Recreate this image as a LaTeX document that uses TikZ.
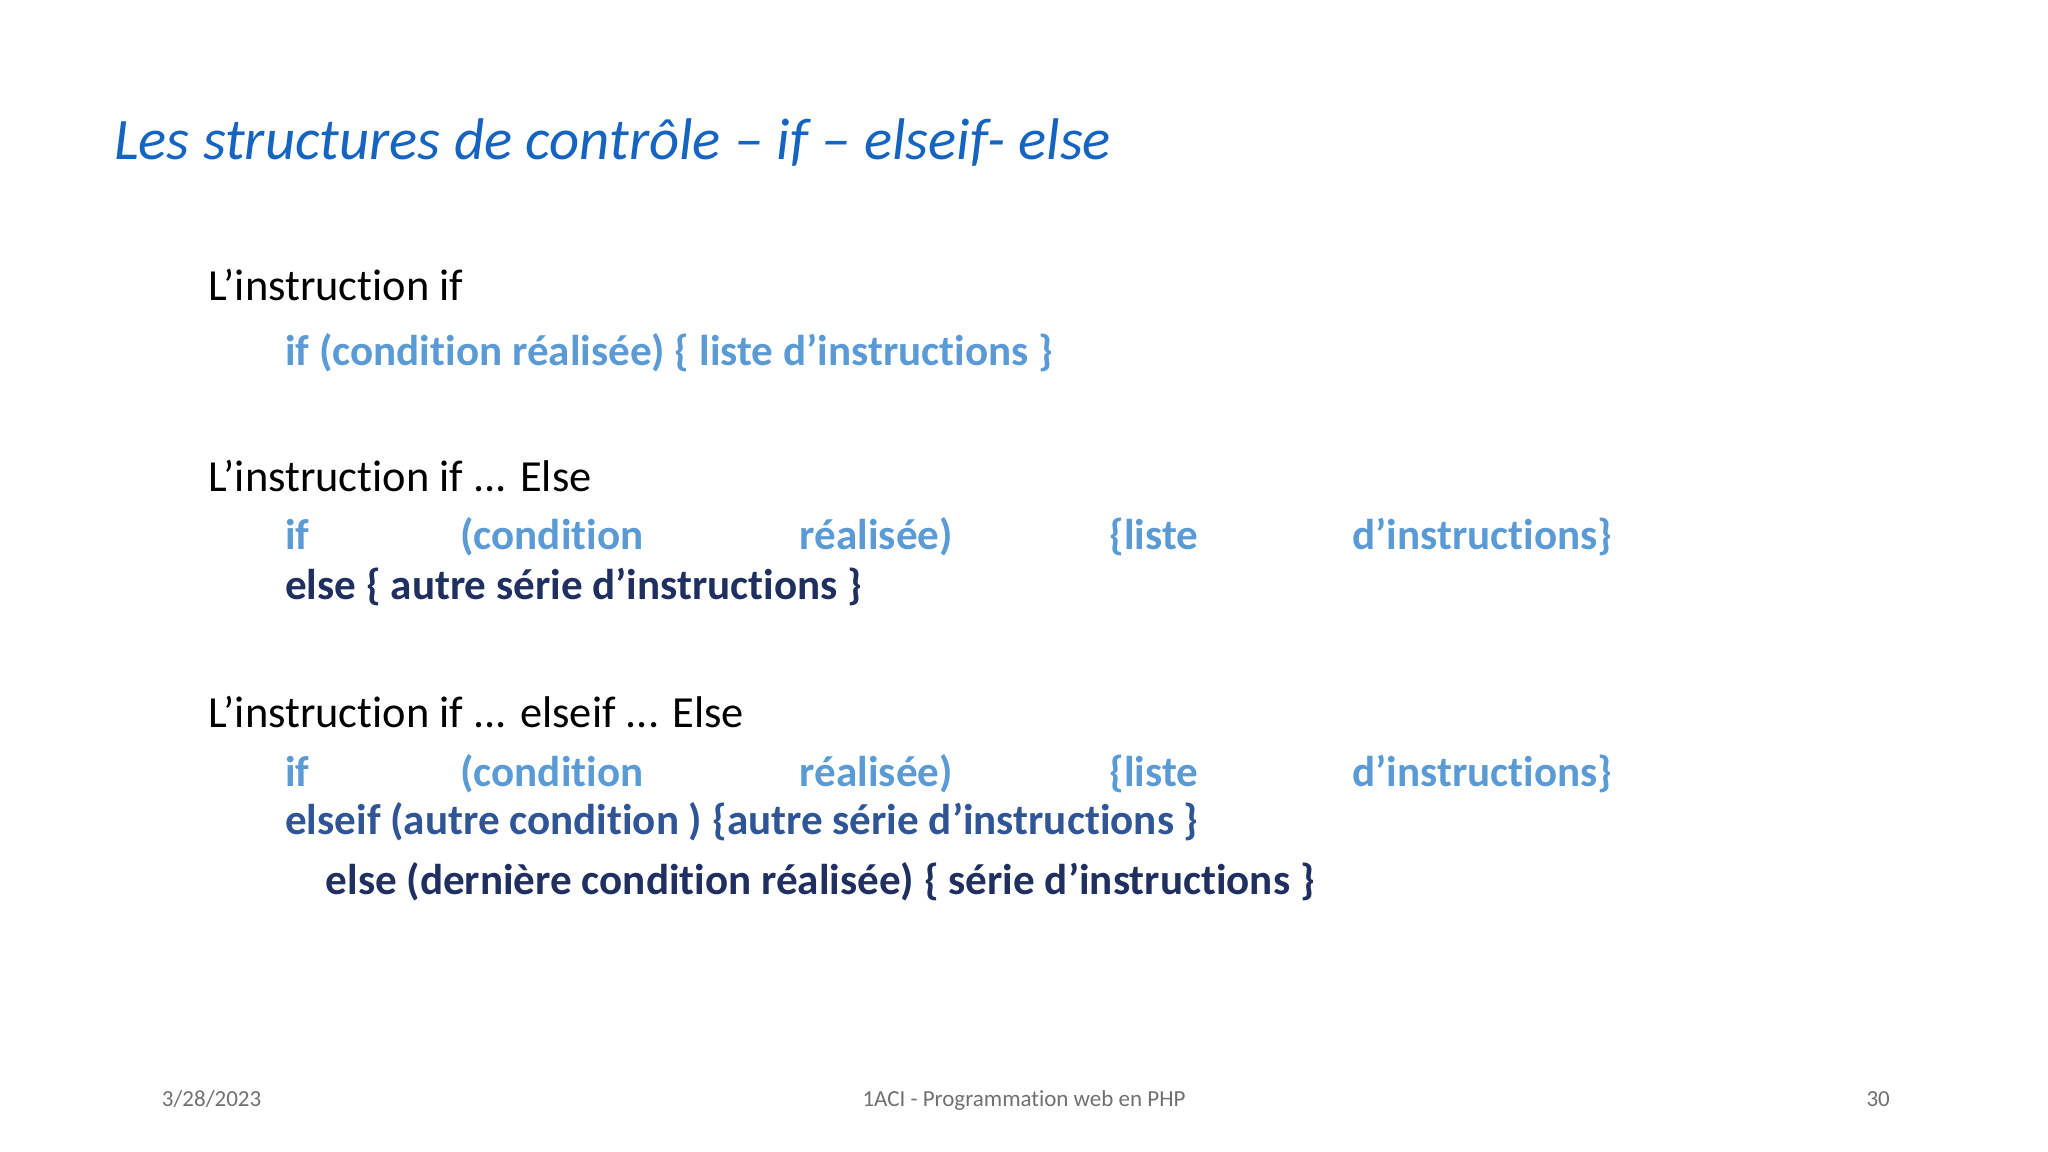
\documentclass[tikz,border=0pt]{standalone}
\usepackage{fontspec}
\setmainfont{Carlito}[Ligatures={NoCommon},RawFeature={-liga;-calt}]
\newcommand\ap{\char39\relax}
\definecolor{titleblue}{HTML}{1565C0}
\definecolor{lblue}{HTML}{5B9BD5}
\definecolor{mblue}{HTML}{2F5597}
\definecolor{navy}{HTML}{1F2F5F}
\definecolor{foot}{HTML}{707070}
\begin{document}
\begin{tikzpicture}[x=0.5pt,y=-0.5pt,
  t/.style={anchor=base west,inner sep=0pt,font=\fontsize{17}{20}\selectfont},
  c/.style={anchor=base west,inner sep=0pt,font=\fontsize{16.5}{20}\bfseries\selectfont,text=lblue},
  f/.style={inner sep=0pt,anchor=base,font=\fontsize{8.8}{10}\selectfont,text=foot}]
\useasboundingbox (0,0) rectangle (1568,882);
\node[anchor=base west,inner sep=0pt,text=titleblue,font=\fontsize{22.5}{26}\itshape\selectfont] (title) at (87,122) {Les structures de contrôle – if – elseif- else};
\node[t] (h1) at (159,230) {L\ap instruction if};
\node[c] (a1) at (218,280) {if (condition réalisée) \{ liste d\ap instructions \}};
\node[t] (h2) at (159,376) {L\ap instruction if ... Else};
\node[c] (ba) at (218,421) {if};
\node[c] (bb) at (352,421) {(condition};
\node[c] (bc) at (612,421) {réalisée)};
\node[c] (bd) at (849,421) {\{liste};
\node[c] (be) at (1035,421) {d\ap instructions\}};
\node[c,text=navy] (b2) at (218,459) {else \{ autre série d\ap instructions \}};
\node[t] (h3) at (159,557) {L\ap instruction if ... elseif ... Else};
\node[c] (ca) at (218,602) {if};
\node[c] (cb) at (352,602) {(condition};
\node[c] (cc) at (612,602) {réalisée)};
\node[c] (cd) at (849,602) {\{liste};
\node[c] (ce) at (1035,602) {d\ap instructions\}};
\node[c,text=mblue] (c2) at (218,639) {elseif (autre condition ) \{autre série d\ap instructions \}};
\node[c,text=navy] (c3) at (249,685) {else (dernière condition réalisée) \{ série d\ap instructions \}};
\node[f] (date) at (162,847) {3/28/2023};
\node[f] (mid) at (784,847) {1ACI - Programmation web en PHP};
\node[f] (num) at (1438,847) {30};
\end{tikzpicture}
\end{document}
